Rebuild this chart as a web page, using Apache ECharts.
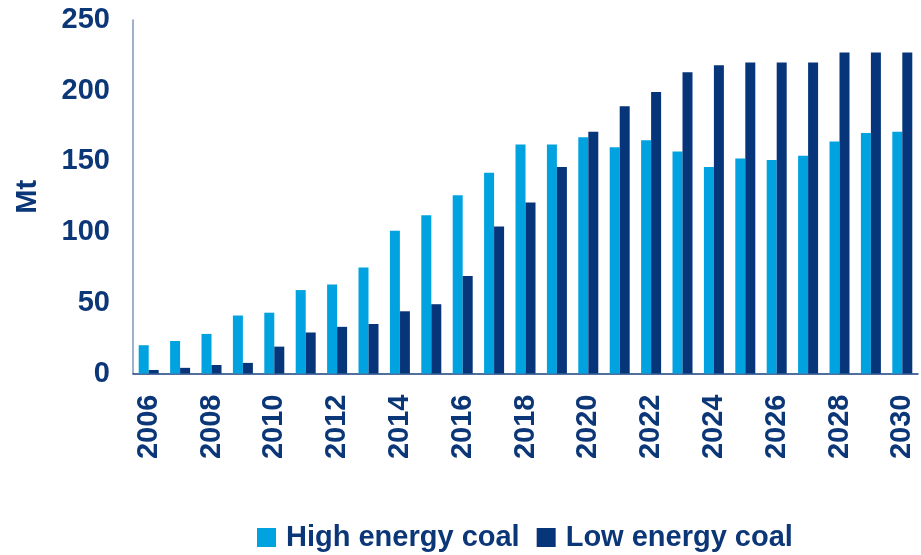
<!DOCTYPE html>
<html>
<head>
<meta charset="utf-8">
<script src="https://cdn.jsdelivr.net/npm/echarts@6/dist/echarts.min.js"></script>
<style>
  html, body { margin: 0; padding: 0; background: #ffffff; }
  #chart { width: 921px; height: 555px; }
</style>
</head>
<body>
<div id="chart"></div>
<script>
// Coal production outlook, million tonnes per year
const years = ['2006','2007','2008','2009','2010','2011','2012','2013','2014','2015',
               '2016','2017','2018','2019','2020','2021','2022','2023','2024','2025',
               '2026','2027','2028','2029','2030'];
const highEnergyCoal = [20, 23, 28, 41, 43, 59, 63, 75, 101, 112,
                        126, 142, 162, 162, 167, 160, 165, 157, 146, 152,
                        151, 154, 164, 170, 171];
const lowEnergyCoal = [2.5, 4, 6, 7.5, 19, 29, 33, 35, 44, 49,
                       69, 104, 121, 146, 171, 189, 199, 213, 218, 220,
                       220, 220, 227, 227, 227];
const seriesNames = ['High energy coal', 'Low energy coal'];
const unitName = 'Mt';

const navy = '#0b3677';
const lightBlue = '#00a3e0';
const darkBlue = '#07357a';
const fontFamily = '"Liberation Sans", Arial, sans-serif';

const chart = echarts.init(document.getElementById('chart'));
chart.setOption({
  animation: false,
  textStyle: { fontFamily: fontFamily },
  grid: { left: 133, right: 3, top: 20, bottom: 181.5, containLabel: false },
  legend: {
    data: seriesNames,
    top: 523,
    left: 257,
    padding: 0,
    itemWidth: 19,
    itemHeight: 19,
    itemGap: 17,
    icon: 'rect',
    textStyle: {
      color: navy, fontSize: 29, fontWeight: 'bold', fontFamily: fontFamily,
      padding: [0, 0, 0, 5]
    }
  },
  xAxis: {
    type: 'category',
    data: years,
    axisLine: { lineStyle: { color: '#17407f', width: 1.5 } },
    axisTick: { show: false },
    axisLabel: {
      interval: 1,
      rotate: 90,
      margin: 21,
      color: navy,
      fontSize: 29,
      fontWeight: 'bold',
      fontFamily: fontFamily
    }
  },
  yAxis: {
    type: 'value',
    min: 0,
    max: 250,
    interval: 50,
    name: unitName,
    nameLocation: 'middle',
    nameRotate: 90,
    nameGap: 91,
    nameTextStyle: { color: navy, fontSize: 29, fontWeight: 'bold', fontFamily: fontFamily },
    axisLine: { show: true, lineStyle: { color: '#7f97b9', width: 1.5 } },
    axisTick: { show: false },
    splitLine: { show: false },
    axisLabel: {
      margin: 23,
      color: navy,
      fontSize: 29,
      fontWeight: 'bold',
      fontFamily: fontFamily
    }
  },
  series: [
    {
      name: seriesNames[0],
      type: 'bar',
      data: highEnergyCoal,
      barWidth: 10,
      barGap: '0%',
      itemStyle: { color: lightBlue }
    },
    {
      name: seriesNames[1],
      type: 'bar',
      data: lowEnergyCoal,
      barWidth: 10,
      barGap: '0%',
      itemStyle: { color: darkBlue }
    }
  ]
});
</script>
</body>
</html>
